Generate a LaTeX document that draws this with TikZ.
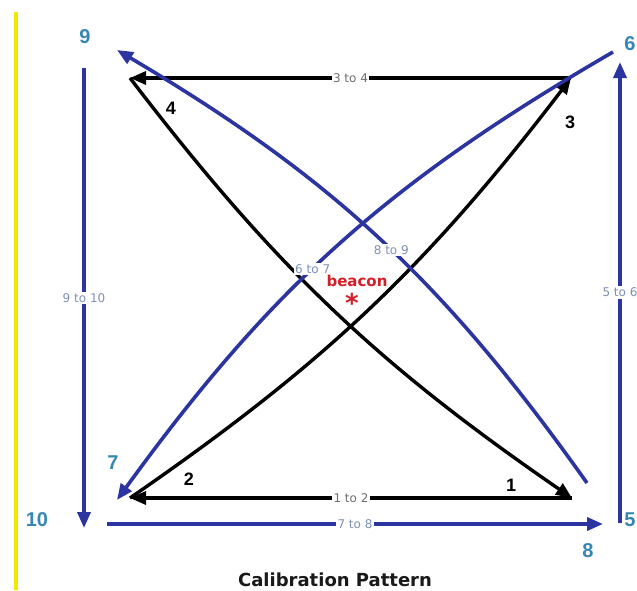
\documentclass[tikz,border=0pt]{standalone}
\usepackage{fontspec}
\setmainfont{DejaVu Sans}
\newfontfamily\numfont{Liberation Sans}
\usetikzlibrary{arrows.meta,positioning}

\definecolor{pathblue}{RGB}{43,52,160}
\definecolor{numblue}{RGB}{55,135,180}
\definecolor{tagblue}{RGB}{125,145,180}
\definecolor{taggrey}{RGB}{110,110,110}
\definecolor{beaconred}{RGB}{210,30,40}
\definecolor{marginyellow}{RGB}{245,232,0}

\tikzset{
  blackleg/.style={line width=3.4pt,-{Triangle[length=16pt,width=13pt]}},
  blueleg/.style={draw=pathblue,line width=3.6pt,-{Triangle[length=16pt,width=13pt]}},
  legtag/.style={fill=white,inner sep=1.5pt,text=tagblue,font=\fontsize{12}{13}\selectfont},
  cornernum/.style={text=numblue,font=\numfont\bfseries\fontsize{20}{22}\selectfont},
  turnnum/.style={font=\numfont\bfseries\fontsize{18}{20}\selectfont},
}

\begin{document}
\begin{tikzpicture}[x=1pt,y=-1pt]
\useasboundingbox (0,0) rectangle (637,590);
\fill[white] (0,0) rectangle (637,590);
\draw[marginyellow,line width=4pt] (16,12) -- (16,590);

% black loop 1-2-3-4
\coordinate (c1) at (572,498);
\coordinate (c2) at (130,498);
\coordinate (c3) at (571,78);
\coordinate (c4) at (130,78);
\draw[blackleg] (c1) -- node[legtag,text=taggrey] {1 to 2} (c2);
\draw[blackleg] (c2) to[bend right=9] (c3);
\draw[blackleg] (c3) -- node[legtag,text=taggrey] {3 to 4} (c4);
\draw[blackleg] (c4) to[bend right=9] (c1);

% blue loop 5-6-7-8-9-10
\coordinate (s5)  at (620,523);
\coordinate (t6)  at (620,62);
\coordinate (s6)  at (613,52);
\coordinate (t7)  at (117,500);
\coordinate (s7)  at (107,524);
\coordinate (t8)  at (603,524);
\coordinate (s8)  at (587,483);
\coordinate (t9)  at (117,50);
\coordinate (s9)  at (84,68);
\coordinate (t10) at (84,528);
\draw[blueleg] (s5) -- node[legtag] {5 to 6} (t6);
\draw[blueleg] (s6) to[bend right=12] node[pos=0.555,legtag] {6 to 7} (t7);
\draw[blueleg] (s7) -- node[legtag] {7 to 8} (t8);
\draw[blueleg] (s8) to[bend right=12] node[pos=0.47,legtag] {8 to 9} (t9);
\draw[blueleg] (s9) -- node[legtag] {9 to 10} (t10);

\node[cornernum] (n5)  at (630,520) {5};
\node[cornernum] (n6)  at (630,44)  {6};
\node[cornernum] (n7)  at (113,463) {7};
\node[cornernum] (n8)  at (588,551) {8};
\node[cornernum] (n9)  at (85,37)   {9};
\node[cornernum] (n10) at (37,520)  {10};

\node[turnnum] (m1) at (511,485) {1};
\node[turnnum] (m2) at (189,479) {2};
\node[turnnum] (m3) at (570,122) {3};
\node[turnnum] (m4) at (171,108) {4};

\node[text=beaconred,font=\bfseries\fontsize{15}{16}\selectfont] (beacon) at (357,281) {beacon};
\node[text=beaconred,font=\bfseries\fontsize{26}{26}\selectfont] (star) at (352,303) {*};

\node[font=\bfseries\fontsize{18}{20}\selectfont,text=black!90] (title) at (335,580) {Calibration Pattern};
\end{tikzpicture}
\end{document}
